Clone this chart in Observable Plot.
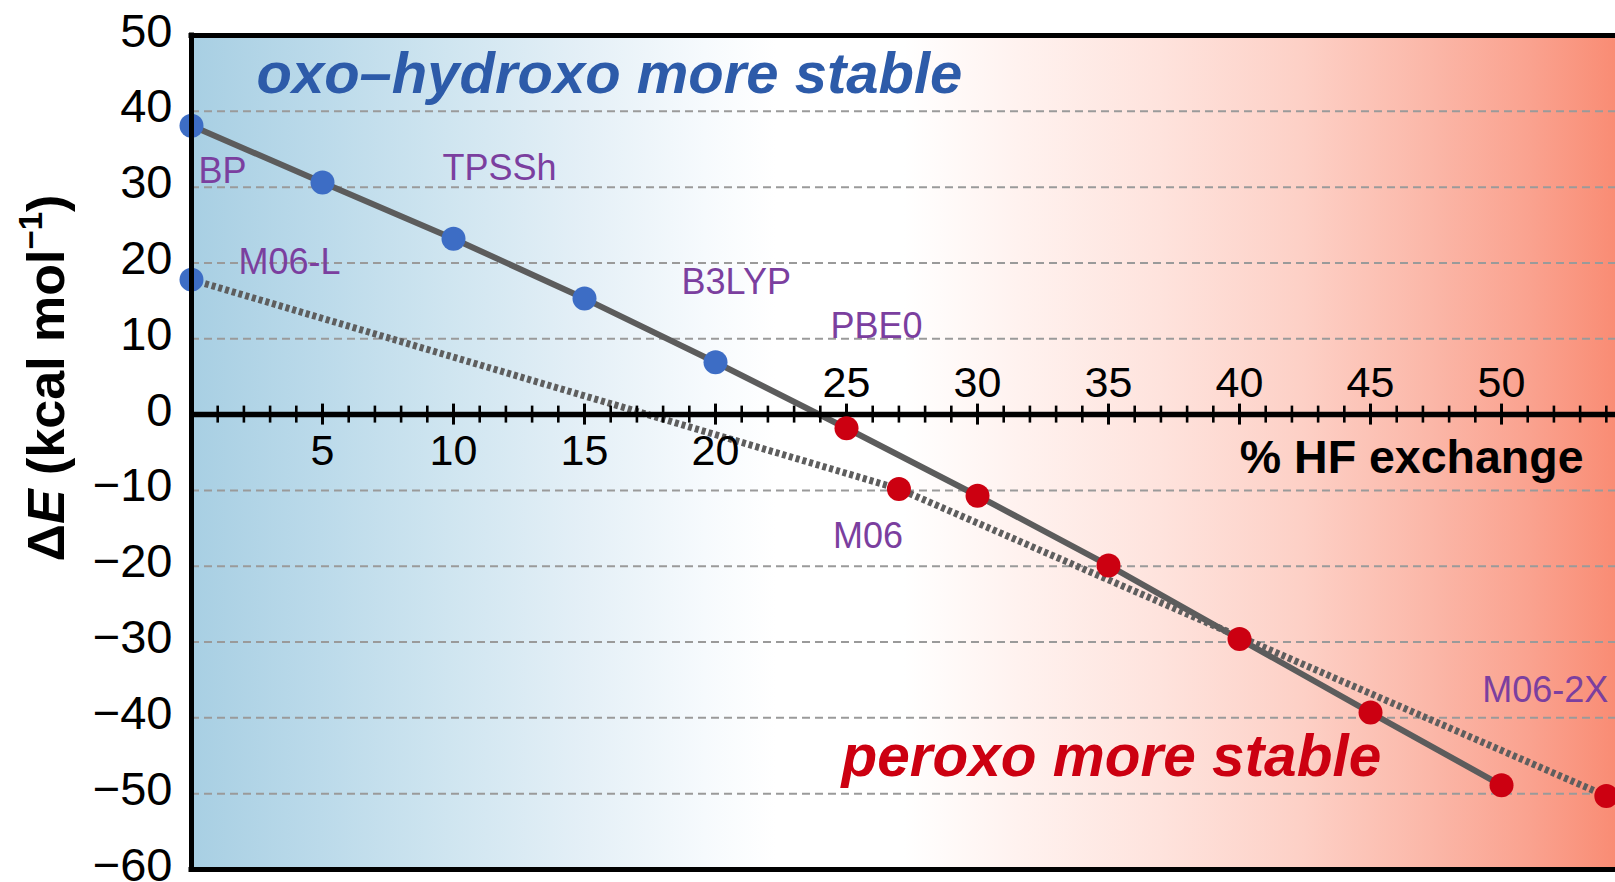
<!DOCTYPE html>
<html>
<head>
<meta charset="utf-8">
<script src="https://cdn.jsdelivr.net/npm/d3@7"></script>
<script src="https://cdn.jsdelivr.net/npm/@observablehq/plot@0.6"></script>
<style>
  html, body { margin: 0; padding: 0; background: #fff; overflow: hidden; }
  #chart { width: 1615px; height: 882px; overflow: hidden; }
  #chart svg { display: block; max-width: none; }
</style>
</head>
<body>
<div id="chart"></div>
<script>
// ---- data ----
const hfPercent   = [0, 5, 10, 15, 20, 25, 30, 35, 40, 45, 50];
const deltaE      = [38.1, 30.6, 23.2, 15.3, 6.9, -1.8, -10.7, -19.9, -29.6, -39.3, -48.9];
const methodNames = ["BP", "", "TPSSh", "", "B3LYP", "PBE0", "", "", "", "", ""];

const mnHF        = [0, 27, 54];
const mnDeltaE    = [17.8, -9.8, -50.3];
const mnNames     = ["M06-L", "M06", "M06-2X"];

const yTicks      = [50, 40, 30, 20, 10, 0, -10, -20, -30, -40, -50, -60];
const gridTicks   = [40, 30, 20, 10, -10, -20, -30, -40, -50];
const xTicksBelow = [5, 10, 15, 20];
const xTicksAbove = [25, 30, 35, 40, 45, 50];
const xMinor      = d3.range(1, 55);

const xTitle = "% HF exchange";
const topNote = "oxo–hydroxo more stable";
const bottomNote = "peroxo more stable";

// ---- presentation ----
const FONT = "'Liberation Sans', Arial, Helvetica, sans-serif";
const labelOffset = {
  "BP": [7, 46], "TPSSh": [-11, -70], "B3LYP": [-34, -80], "PBE0": [-16, -102],
  "M06-L": [47, -17.5], "M06": [-66, 48], "M06-2X": [-124, -105]
};
const gradStops = [
  [0, "#a8cfe3"], [0.09, "#bbdaea"], [0.18, "#cfe5f0"], [0.28, "#e5f0f7"],
  [0.36, "#f6fafd"], [0.41, "#ffffff"], [0.50, "#ffffff"], [0.58, "#fff2ef"],
  [0.68, "#fee3dd"], [0.78, "#fdd0c6"], [0.87, "#fbb7a8"], [0.94, "#faa28f"],
  [1, "#f98c74"]
];

const solid = hfPercent.map((x, i) => ({x, e: deltaE[i], name: methodNames[i]}));
const mn = mnHF.map((x, i) => ({x, e: mnDeltaE[i], name: mnNames[i]}));
const allPts = [...solid, ...mn];
const labeled = allPts.filter(d => d.name);

const plot = Plot.plot({
  width: 1615,
  height: 882,
  marginTop: 35,
  marginBottom: 13,
  marginLeft: 191,
  marginRight: 0,
  x: {domain: [0, 54.35], axis: null},
  y: {domain: [-60, 50], axis: null},
  color: {type: "identity"},
  style: {fontFamily: FONT, background: "#fff", color: "#000"},
  marks: [
    Plot.frame({fill: "url(#bgGrad)", stroke: "none"}),
    Plot.gridY(gridTicks, {stroke: "#9a9a9a", strokeOpacity: 1, strokeWidth: 2, strokeDasharray: "8,5"}),
    Plot.line(solid, {x: "x", y: "e", stroke: "#5c5c5c", strokeWidth: 6}),
    Plot.line(mn, {x: "x", y: "e", stroke: "#5e5e5e", strokeWidth: 7, strokeDasharray: "4,3", strokeLinecap: "butt", strokeLinejoin: "miter"}),
    Plot.ruleY([0], {stroke: "#000", strokeWidth: 5.5}),
    Plot.ruleX(xMinor.filter(d => d % 5 !== 0), {x: d => d, y1: 0, y2: 0, insetTop: -8.5, insetBottom: -8.5, stroke: "#000", strokeWidth: 2.6}),
    Plot.ruleX(xMinor.filter(d => d % 5 === 0), {x: d => d, y1: 0, y2: 0, insetTop: -10.5, insetBottom: -10.5, stroke: "#000", strokeWidth: 3}),
    Plot.dot(allPts, {x: "x", y: "e", r: 12, fill: d => d.e > 0 ? "#3d6dc5" : "#cc0011", stroke: "none"}),
    ...labeled.map(d => Plot.text([d], {
      x: "x", y: "e", text: "name",
      dx: labelOffset[d.name][0], dy: labelOffset[d.name][1],
      textAnchor: "start", lineAnchor: "middle", fontSize: 36, fill: "#7b3f9f"
    })),
    Plot.text(xTicksBelow, {x: d => d, y: 0, text: d => String(d), dy: 37, fontSize: 43, fill: "#000", lineAnchor: "middle"}),
    Plot.text(xTicksAbove, {x: d => d, y: 0, text: d => String(d), dy: -31, fontSize: 43, fill: "#000", lineAnchor: "middle"}),
    Plot.text([xTitle], {frameAnchor: "right", y: 0, text: d => d, dx: -32, dy: 43.6,
      textAnchor: "end", lineAnchor: "middle", fontSize: 46.5, fontWeight: "bold", fill: "#000"}),
    Plot.text([topNote], {frameAnchor: "top-left", text: d => d, dx: 65, dy: 38.8,
      textAnchor: "start", lineAnchor: "middle", fontSize: 58, fontWeight: "bold", fontStyle: "italic", fill: "#2d5ba9"}),
    Plot.text([bottomNote], {frameAnchor: "bottom-left", text: d => d, dx: 650, dy: -112,
      textAnchor: "start", lineAnchor: "middle", fontSize: 58.5, fontWeight: "bold", fontStyle: "italic", fill: "#cc0011"}),
    Plot.ruleY([50, -60], {stroke: "#000", strokeWidth: 5, strokeLinecap: "square"}),
    Plot.ruleX([0], {y1: -60, y2: 50, stroke: "#000", strokeWidth: 5, strokeLinecap: "square"}),
    Plot.axisY(yTicks, {anchor: "left", tickSize: 0, tickPadding: 19, fontSize: 47, dy: -4, label: null, fill: "#000"})
  ]
});

const svg = d3.select(plot);
const grad = svg.insert("defs", ":first-child")
  .append("linearGradient").attr("id", "bgGrad")
  .attr("x1", 0).attr("x2", 1).attr("y1", 0).attr("y2", 0);
gradStops.forEach(([o, c]) => grad.append("stop").attr("offset", o).attr("stop-color", c));

const t = svg.append("text")
  .attr("transform", "translate(64,378) rotate(-90)")
  .attr("text-anchor", "middle")
  .attr("font-family", FONT)
  .attr("font-size", 52)
  .attr("font-weight", "bold")
  .attr("fill", "#000");
t.append("tspan").text("Δ");
t.append("tspan").attr("font-style", "italic").text("E");
t.append("tspan").text(" (kcal mol");
t.append("tspan").attr("font-size", 33).attr("dy", -22).text("−1");
t.append("tspan").attr("dy", 22).text(")");

document.getElementById("chart").appendChild(plot);
</script>
</body>
</html>
